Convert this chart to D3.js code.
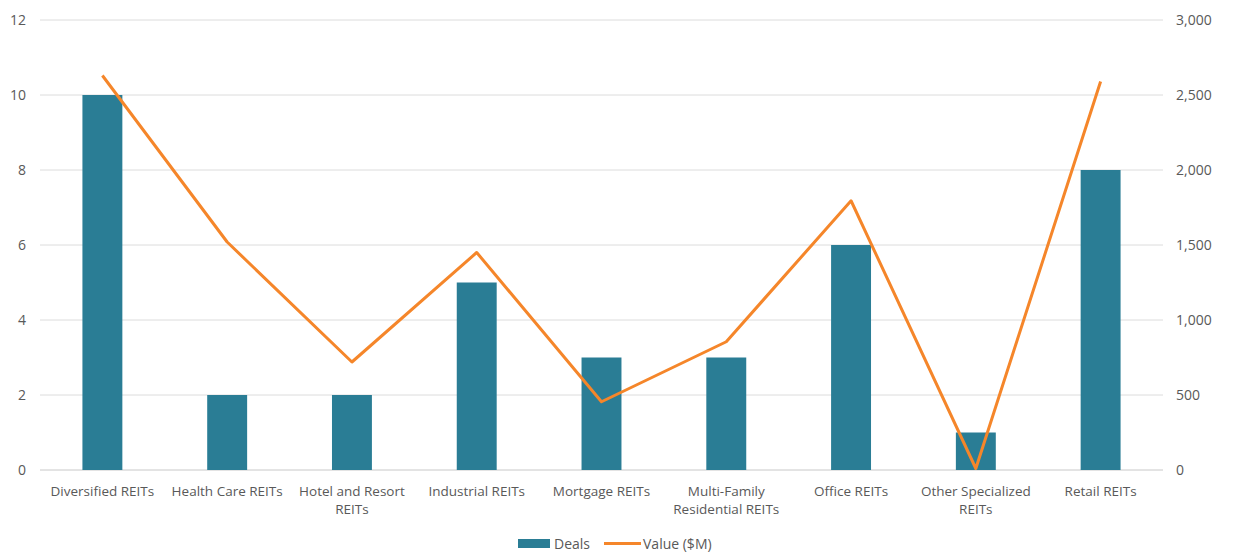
<!DOCTYPE html>
<html>
<head>
<meta charset="utf-8">
<script src="https://cdn.jsdelivr.net/npm/d3@7"></script>
<style>
  body { margin: 0; background: #fff; }
  text { font-family: "Open Sans", "Liberation Sans", sans-serif; fill: #595959; }
</style>
</head>
<body>
<div id="chart"></div>
<script>
/* DATA */
const categories = [
  ["Diversified REITs"],
  ["Health Care REITs"],
  ["Hotel and Resort", "REITs"],
  ["Industrial REITs"],
  ["Mortgage REITs"],
  ["Multi-Family", "Residential REITs"],
  ["Office REITs"],
  ["Other Specialized", "REITs"],
  ["Retail REITs"]
];
const deals = [10, 2, 2, 5, 3, 3, 6, 1, 8];
const valueM = [2630, 1520, 720, 1450, 455, 855, 1795, 10, 2590];
const leftTicks = [0, 2, 4, 6, 8, 10, 12];
const rightTicks = [0, 500, 1000, 1500, 2000, 2500, 3000];

/* CONSTANTS */
const width = 1233,
  height = 553,
  margin = { top: 20, bottom: 83, left: 40, right: 70 };

const svg = d3.select("#chart")
  .append("svg")
  .attr("width", width)
  .attr("height", height);

const keys = categories.map(d => d.join(" "));

const xScale = d3.scaleBand()
  .domain(keys)
  .range([margin.left, width - margin.right])
  .paddingInner(0.68)
  .paddingOuter(0.34);

const yLeft = d3.scaleLinear()
  .domain([0, 12])
  .range([height - margin.bottom, margin.top]);

const yRight = d3.scaleLinear()
  .domain([0, 3000])
  .range([height - margin.bottom, margin.top]);

// gridlines
svg.append("g")
  .selectAll("line")
  .data(leftTicks)
  .join("line")
  .attr("x1", margin.left)
  .attr("x2", width - margin.right)
  .attr("y1", d => yLeft(d))
  .attr("y2", d => yLeft(d))
  .attr("stroke", d => d === 0 ? "#c8c8c8" : "#dcdcdc")
  .attr("stroke-width", 1);

// left axis
const leftAxis = svg.append("g")
  .attr("transform", `translate(${margin.left - 14}, 0)`)
  .call(d3.axisLeft(yLeft).tickValues(leftTicks).tickSize(0).tickPadding(0));
leftAxis.select(".domain").remove();
leftAxis.selectAll("text").attr("font-size", 14).style("font-family", null).attr("fill", "#595959");

// right axis
const rightAxis = svg.append("g")
  .attr("transform", `translate(${width - margin.right + 13}, 0)`)
  .call(d3.axisRight(yRight).tickValues(rightTicks).tickSize(0).tickPadding(0)
    .tickFormat(d3.format(",")));
rightAxis.select(".domain").remove();
rightAxis.selectAll("text").attr("font-size", 14).style("font-family", null).attr("fill", "#595959");

// bars
svg.append("g")
  .selectAll("rect")
  .data(deals)
  .join("rect")
  .attr("x", (d, i) => xScale(keys[i]))
  .attr("width", xScale.bandwidth())
  .attr("y", d => yLeft(d))
  .attr("height", d => yLeft(0) - yLeft(d))
  .attr("fill", "#2a7d95");

// line
const line = d3.line()
  .x((d, i) => xScale(keys[i]) + xScale.bandwidth() / 2)
  .y(d => yRight(d));

svg.append("path")
  .datum(valueM)
  .attr("d", line)
  .attr("fill", "none")
  .attr("stroke", "#f5862a")
  .attr("stroke-width", 3)
  .attr("stroke-linejoin", "round");

// category labels
const catG = svg.append("g");
categories.forEach((lines, i) => {
  const t = catG.append("text")
    .attr("x", xScale(keys[i]) + xScale.bandwidth() / 2)
    .attr("y", height - margin.bottom + 26)
    .attr("text-anchor", "middle")
    .attr("font-size", 13.5);
  lines.forEach((s, j) => {
    t.append("tspan")
      .attr("x", xScale(keys[i]) + xScale.bandwidth() / 2)
      .attr("dy", j === 0 ? 0 : 18)
      .text(s);
  });
});

// legend
const legend = svg.append("g");
legend.append("rect")
  .attr("x", 518).attr("y", 539)
  .attr("width", 32).attr("height", 9)
  .attr("fill", "#2a7d95");
legend.append("text")
  .attr("x", 554).attr("y", 549)
  .attr("font-size", 14)
  .text("Deals");
legend.append("line")
  .attr("x1", 604).attr("x2", 641)
  .attr("y1", 543.5).attr("y2", 543.5)
  .attr("stroke", "#f5862a")
  .attr("stroke-width", 3);
legend.append("text")
  .attr("x", 643).attr("y", 549)
  .attr("font-size", 14)
  .text("Value ($M)");
</script>
</body>
</html>
